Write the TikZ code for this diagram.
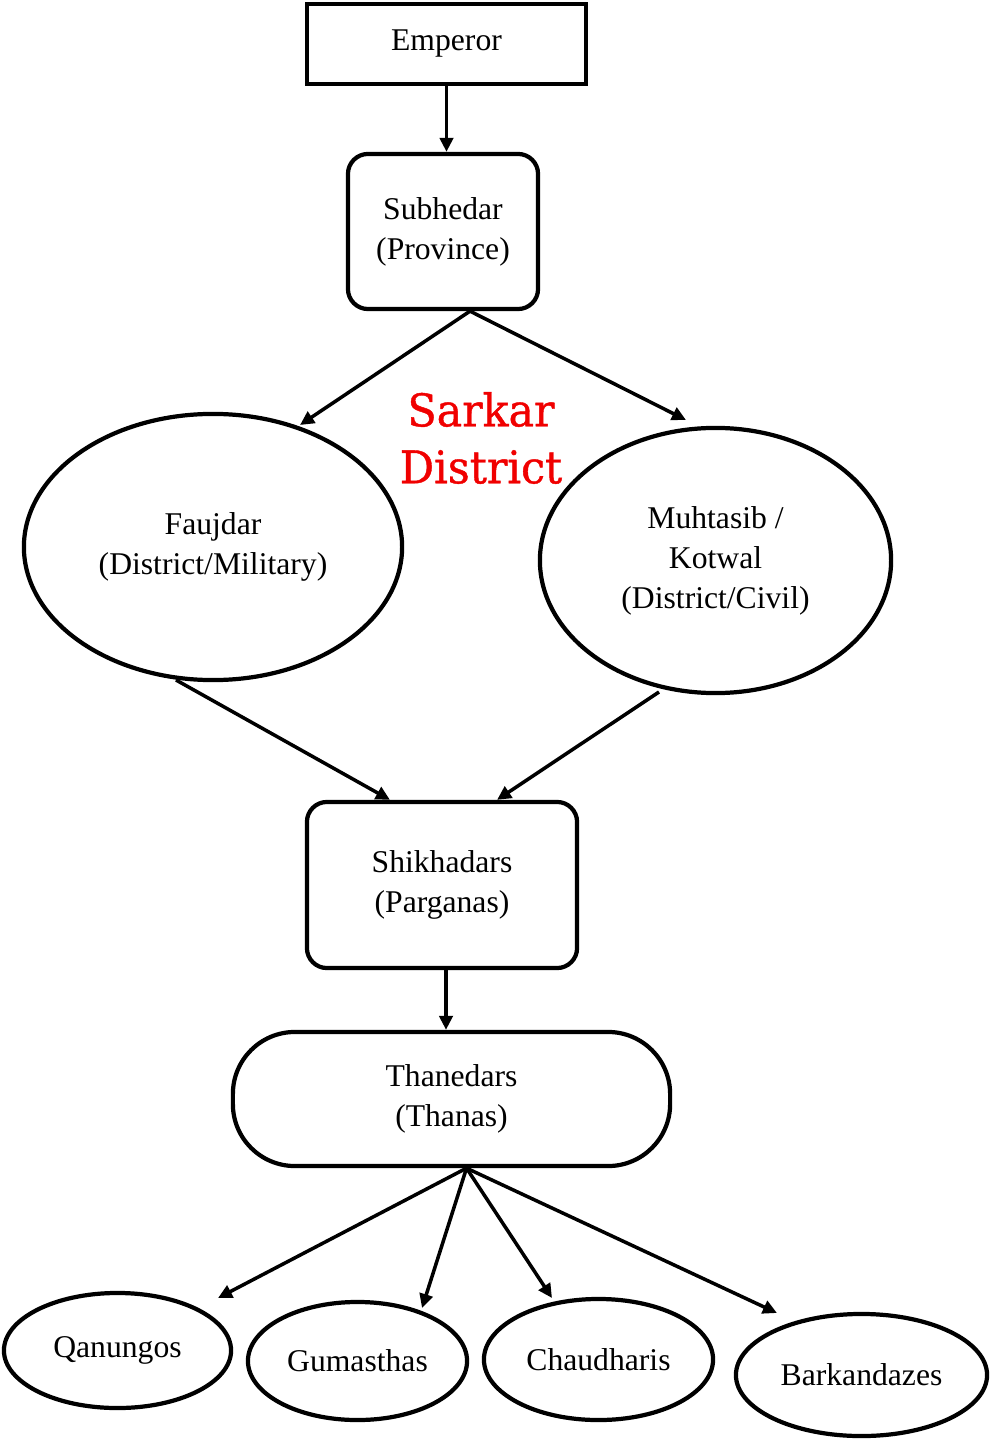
\documentclass[tikz,border=0pt]{standalone}
\usepackage{fontspec}
\setmainfont{Liberation Serif}
\newfontfamily\slabfont[FakeStretch=0.95,FakeBold=0.9]{DejaVu Serif}
\usetikzlibrary{shapes.geometric,arrows.meta}
\definecolor{sarkarred}{RGB}{240,0,0}
\begin{document}
\begin{tikzpicture}[x=0.01cm,y=-0.01cm,
  every node/.style={font=\fontsize{9}{11.4}\selectfont, align=center, inner sep=0pt},
  sqbox/.style={draw, line width=1.25pt, rectangle},
  rbox/.style={draw, line width=1.2pt, rectangle, rounded corners=0.2cm},
  pill/.style={draw, line width=1.2pt, rectangle, rounded corners=0.62cm},
  oval/.style={draw, line width=1.2pt, ellipse},
  conn/.style={line width=1pt, -{Triangle[length=4pt,width=3.8pt]}}
]
\useasboundingbox (0,0) rectangle (991,1440);

\node[sqbox, minimum width=2.79cm, minimum height=0.80cm] (emperor) at (446.5,44) {Emperor};
\node[rbox, minimum width=1.90cm, minimum height=1.55cm] (subhedar) at (443,231.5) {Subhedar\\(Province)};
\node[oval, minimum width=3.78cm, minimum height=2.66cm] (faujdar) at (213,547) {Faujdar\\(District/Military)};
\node[oval, minimum width=3.51cm, minimum height=2.65cm] (muhtasib) at (715.5,560.5) {Muhtasib /\\Kotwal\\(District/Civil)};
\node[font=\slabfont\fontsize{12.8}{16.2}\selectfont, text=sarkarred] (sarkar) at (481,438) {Sarkar\\District};
\node[rbox, minimum width=2.70cm, minimum height=1.66cm] (shikhadars) at (442,885) {Shikhadars\\(Parganas)};
\node[pill, minimum width=4.37cm, minimum height=1.34cm] (thanedars) at (451.5,1099) {Thanedars\\(Thanas)};
\node[oval, minimum width=2.27cm, minimum height=1.15cm] (qanungos) at (117.5,1350.5) {Qanungos};
\node[oval, minimum width=2.19cm, minimum height=1.18cm] (gumasthas) at (357.5,1361) {Gumasthas};
\node[oval, minimum width=2.29cm, minimum height=1.21cm] (chaudharis) at (598.5,1359.5) {Chaudharis};
\node[oval, minimum width=2.51cm, minimum height=1.22cm] (barkandazes) at (861.5,1375) {Barkandazes};

\draw[conn] (emperor.south) -- (emperor.south |- subhedar.north);
\draw[conn] ([xshift=0.27cm]subhedar.south) -- ([shift={(87,-122)}]faujdar.center);
\draw[conn] ([xshift=0.27cm]subhedar.south) -- ([shift={(-29.5,-140.5)}]muhtasib.center);
\draw[conn] ([shift={(-37,133)}]faujdar.center) -- ([xshift=-0.52cm]shikhadars.north);
\draw[conn] ([shift={(-56.5,131.5)}]muhtasib.center) -- ([xshift=0.55cm]shikhadars.north);
\draw[conn] ([xshift=0.04cm]shikhadars.south) -- ([xshift=0.04cm]shikhadars.south |- thanedars.north);
\draw[conn] ([xshift=0.15cm]thanedars.south) -- ([shift={(100.5,-52.5)}]qanungos.center);
\draw[conn] ([xshift=0.15cm]thanedars.south) -- ([shift={(64.5,-53)}]gumasthas.center);
\draw[conn] ([xshift=0.15cm]thanedars.south) -- ([shift={(-46.5,-61.5)}]chaudharis.center);
\draw[conn] ([xshift=0.15cm]thanedars.south) -- ([shift={(-84.5,-62)}]barkandazes.center);
\end{tikzpicture}
\end{document}
